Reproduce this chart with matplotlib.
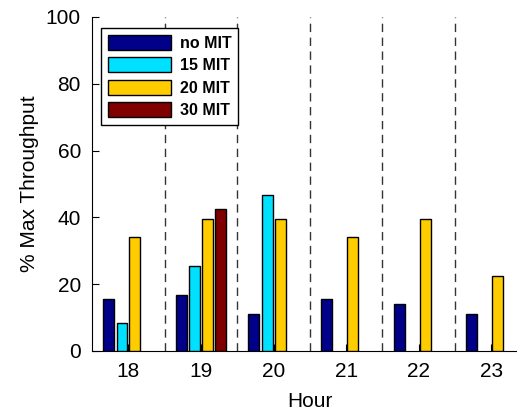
import numpy as np
import matplotlib
matplotlib.use("Agg")
import matplotlib.pyplot as plt

plt.rcParams['font.family'] = ['Liberation Sans', 'DejaVu Sans']

# données (nan = pas de barre)
heures = [18, 19, 20, 21, 22, 23]
series = ['no MIT', '15 MIT', '20 MIT', '30 MIT']
no_mit = [15.5, 16.9, 11.1, 15.5, 14.0, 11.2]
mit_15 = [8.3, 25.4, 46.8, np.nan, np.nan, np.nan]
mit_20 = [34.0, 39.6, 39.6, 34.0, 39.6, 22.5]
mit_30 = [np.nan, 42.4, np.nan, np.nan, np.nan, np.nan]
couleurs = ['#000088', '#00E0FF', '#FFCC00', '#800000']

valeurs = [no_mit, mit_15, mit_20, mit_30]

fig = plt.figure(figsize=(5.17, 4.11), dpi=100)
ax = fig.add_axes([0.178, 0.146, 0.8426, 0.8127])

x = np.array(heures)
largeur = 0.15
decalages = [-0.27, -0.087, 0.09, 0.27]
for vals, nom, coul, d in zip(valeurs, series, couleurs, decalages):
    ax.bar(x + d, vals, width=largeur, color=coul, edgecolor='black',
           linewidth=1.0, label=nom, zorder=3)

# séparateurs entre les heures
for h in heures[:-1]:
    ax.plot([h + 0.5, h + 0.5], [0, 100], color='#333333', linestyle=(0, (6, 4)),
            linewidth=1.0, zorder=1)

ax.set_xlim(17.5, 23.5)
ax.set_ylim(0, 100)
ax.set_xticks(heures)
ax.set_yticks([0, 20, 40, 60, 80, 100])
ax.tick_params(direction='in', length=5, labelsize=15, pad=8)
ax.spines['top'].set_visible(False)
ax.spines['right'].set_visible(False)
ax.set_xlabel('Hour', fontsize=15, labelpad=8)
ax.set_ylabel('% Max Throughput', fontsize=15, labelpad=5)

leg = ax.legend(loc='upper left', bbox_to_anchor=(0.021, 0.967),
                prop={'size': 11.5, 'weight': 'bold'}, handlelength=3.95,
                handleheight=1.05, labelspacing=0.42, handletextpad=0.55,
                borderpad=0.42, borderaxespad=0, fancybox=False, framealpha=1)
leg.get_frame().set_edgecolor('black')
leg.get_frame().set_linewidth(1.0)

fig.savefig('out.png', dpi=100)
